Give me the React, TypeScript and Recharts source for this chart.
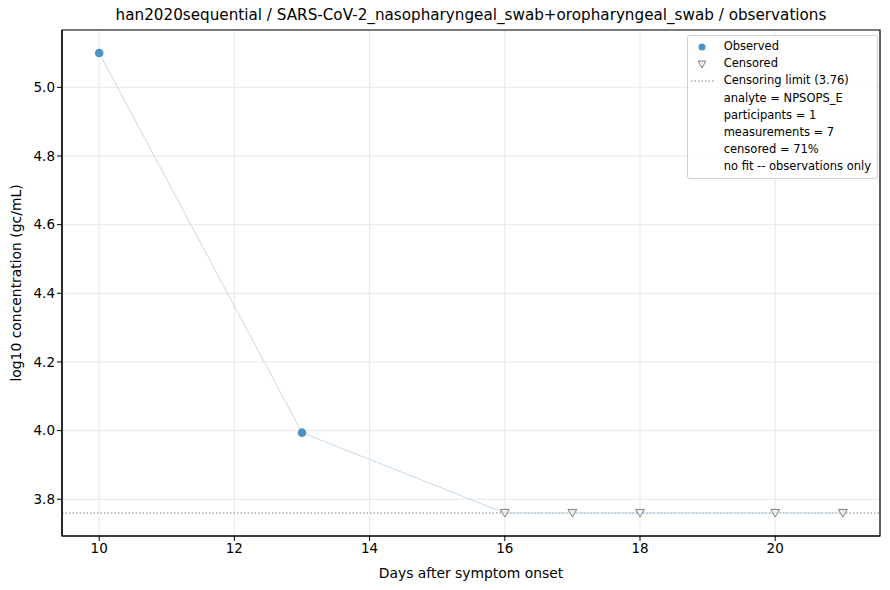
import React from "react";
import {
  ComposedChart,
  Line,
  Scatter,
  XAxis,
  YAxis,
  CartesianGrid,
  ReferenceLine,
  ReferenceArea,
} from "recharts";

const DAYS = [10, 13, 16, 17, 18, 20, 21];
const LOG_CONC = [5.1, 3.994, 3.76, 3.76, 3.76, 3.76, 3.76];
const IS_CENSORED = [false, false, true, true, true, true, true];
const CENSOR_LIMIT = 3.76;

const X_TICKS = [10, 12, 14, 16, 18, 20];
const Y_TICKS = [3.8, 4.0, 4.2, 4.4, 4.6, 4.8, 5.0];
const X_DOMAIN = [9.45, 21.55];
const Y_DOMAIN = [3.693, 5.167];

const INFO_LINES = [
  "analyte = NPSOPS_E",
  "participants = 1",
  "measurements = 7",
  "censored = 71%",
  "no fit -- observations only",
];

const FONT = "'DejaVu Sans', sans-serif";
const OBS_COLOR = "#4c92c3";

const rows = DAYS.map((d, i) => ({ day: d, value: LOG_CONC[i], censored: IS_CENSORED[i] }));
const observed = rows.filter((r) => !r.censored);
const censored = rows.filter((r) => r.censored);

const Circle = (props: any) => (
  <circle cx={props.cx} cy={props.cy} r={4.3} fill={OBS_COLOR} />
);

const TriDown = (props: any) => {
  const { cx, cy } = props;
  const s = 4.5;
  return (
    <path
      d={`M${cx - s},${cy - s * 0.8} L${cx + s},${cy - s * 0.8} L${cx},${cy + s * 0.9} Z`}
      fill="#eeeeee"
      stroke="#808080"
      strokeWidth={1}
    />
  );
};

function LegendBox() {
  const rowH = 17.2;
  return (
    <div
      style={{
        position: "absolute",
        top: 35,
        right: 12,
        background: "rgba(255,255,255,0.8)",
        border: "1px solid #d0d0d0",
        borderRadius: 3,
        padding: "2px 6px 2px 0px",
        fontFamily: FONT,
        fontSize: 11.5,
        color: "#000",
        lineHeight: `${rowH}px`,
      }}
    >
      <div style={{ display: "flex", alignItems: "center" }}>
        <svg width={28} height={12}>
          <circle cx={14} cy={6} r={3.5} fill={OBS_COLOR} />
        </svg>
        <span style={{ marginLeft: 8 }}>Observed</span>
      </div>
      <div style={{ display: "flex", alignItems: "center" }}>
        <svg width={28} height={12}>
          <path d="M10,3 L18,3 L14,10 Z" fill="#eeeeee" stroke="#808080" strokeWidth={1} />
        </svg>
        <span style={{ marginLeft: 8 }}>Censored</span>
      </div>
      <div style={{ display: "flex", alignItems: "center" }}>
        <svg width={28} height={12}>
          <line x1={3} x2={27} y1={6} y2={6} stroke="#808080" strokeWidth={1.2} strokeDasharray="1.5 2" />
        </svg>
        <span style={{ marginLeft: 8 }}>Censoring limit (3.76)</span>
      </div>
      {INFO_LINES.map((t) => (
        <div key={t} style={{ paddingLeft: 36 }}>
          {t}
        </div>
      ))}
    </div>
  );
}

export default function App() {
  return (
    <div style={{ position: "absolute", left: 0, top: 0, width: 890, height: 590, background: "#fff" }}>
      <div
        style={{
          position: "absolute",
          top: 6,
          left: 62,
          width: 818,
          textAlign: "center",
          fontFamily: FONT,
          fontSize: 15.2,
          color: "#000",
        }}
      >
        han2020sequential / SARS-CoV-2_nasopharyngeal_swab+oropharyngeal_swab / observations
      </div>
      <ComposedChart
        width={890}
        height={590}
        data={rows}
        margin={{ top: 30, right: 10, bottom: 24, left: 10 }}
        style={{ fontFamily: FONT }}
      >
        <CartesianGrid stroke="#e3e3e3" strokeWidth={0.8} vertical horizontal />
        <XAxis
          type="number"
          dataKey="day"
          domain={X_DOMAIN}
          ticks={X_TICKS}
          height={30}
          allowDataOverflow
          axisLine={{ stroke: "#000", strokeWidth: 1.2 }}
          tickLine={{ stroke: "#000" }}
          tickSize={5}
          tick={{ fill: "#000", fontSize: 13.5 }}
          label={{ value: "Days after symptom onset", position: "insideBottom", offset: -12, fill: "#000", fontSize: 13.9 }}
        />
        <YAxis
          type="number"
          domain={Y_DOMAIN}
          ticks={Y_TICKS}
          width={52}
          allowDataOverflow
          axisLine={{ stroke: "#000", strokeWidth: 1.2 }}
          tickLine={{ stroke: "#000" }}
          tickSize={5}
          tickFormatter={(v: number) => v.toFixed(1)}
          tick={{ fill: "#000", fontSize: 13.5 }}
          label={{
            value: "log10 concentration (gc/mL)",
            angle: -90,
            position: "insideLeft",
            offset: 6,
            fill: "#000",
            fontSize: 13.9,
            style: { textAnchor: "middle" },
          }}
        />
        <ReferenceArea
          x1={X_DOMAIN[0]}
          x2={X_DOMAIN[1]}
          y1={Y_DOMAIN[0]}
          y2={Y_DOMAIN[1]}
          fill="none"
          stroke="#000"
          strokeWidth={1.2}
          ifOverflow="extendDomain"
        />
        <ReferenceLine y={CENSOR_LIMIT} stroke="#808080" strokeWidth={1.2} strokeDasharray="1.5 2" />
        <Line
          dataKey="value"
          stroke="#c4dbec"
          strokeWidth={1}
          dot={false}
          activeDot={false}
          isAnimationActive={false}
          legendType="none"
        />
        <Scatter data={observed} dataKey="value" shape={<Circle />} isAnimationActive={false} />
        <Scatter data={censored} dataKey="value" shape={<TriDown />} isAnimationActive={false} />
      </ComposedChart>
      <LegendBox />
    </div>
  );
}
